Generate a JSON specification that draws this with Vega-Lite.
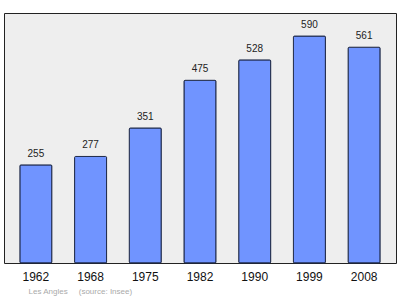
{
  "$schema": "https://vega.github.io/schema/vega-lite/v6.json",
  "width": 392,
  "height": 250,
  "autosize": {"type": "none"},
  "padding": {"left": 4, "top": 13, "right": 4, "bottom": 36},
  "background": "white",
  "config": {
    "view": {"fill": "#eeeeee", "stroke": "#222222", "strokeWidth": 1},
    "font": "Liberation Sans"
  },
  "data": {
    "values": [
      {"year": "1962", "pop": 255},
      {"year": "1968", "pop": 277},
      {"year": "1975", "pop": 351},
      {"year": "1982", "pop": 475},
      {"year": "1990", "pop": 528},
      {"year": "1999", "pop": 590},
      {"year": "2008", "pop": 561}
    ]
  },
  "encoding": {
    "x": {
      "field": "year",
      "type": "ordinal",
      "sort": null,
      "scale": {"paddingInner": 0.415, "paddingOuter": 0.29},
      "axis": {
        "labelAngle": 0,
        "domain": false,
        "ticks": false,
        "labelFont": "Liberation Sans",
        "labelFontSize": 12,
        "labelColor": "#111111",
        "labelBaseline": "alphabetic",
        "labelPadding": 17,
        "title": "Les Angles\u00a0\u00a0\u00a0\u00a0\u00a0(source: Insee)",
        "titleFont": "Liberation Sans",
        "titleFontSize": 8,
        "titleFontWeight": "normal",
        "titleColor": "#aaaaaa",
        "titleAnchor": "start",
        "titleAlign": "left",
        "titleBaseline": "middle",
        "titleX": 24,
        "titleY": 28
      }
    },
    "y": {
      "field": "pop",
      "type": "quantitative",
      "scale": {"domain": [0, 650], "nice": false},
      "axis": null
    }
  },
  "layer": [
    {
      "mark": {"type": "bar", "fill": "#7094ff", "stroke": "#1f2a4a", "strokeWidth": 1, "cornerRadius": 1}
    },
    {
      "mark": {"type": "text", "baseline": "alphabetic", "dy": -8, "fontSize": 10, "font": "Liberation Sans", "color": "#222222"},
      "encoding": {"text": {"field": "pop", "type": "quantitative"}}
    }
  ]
}
